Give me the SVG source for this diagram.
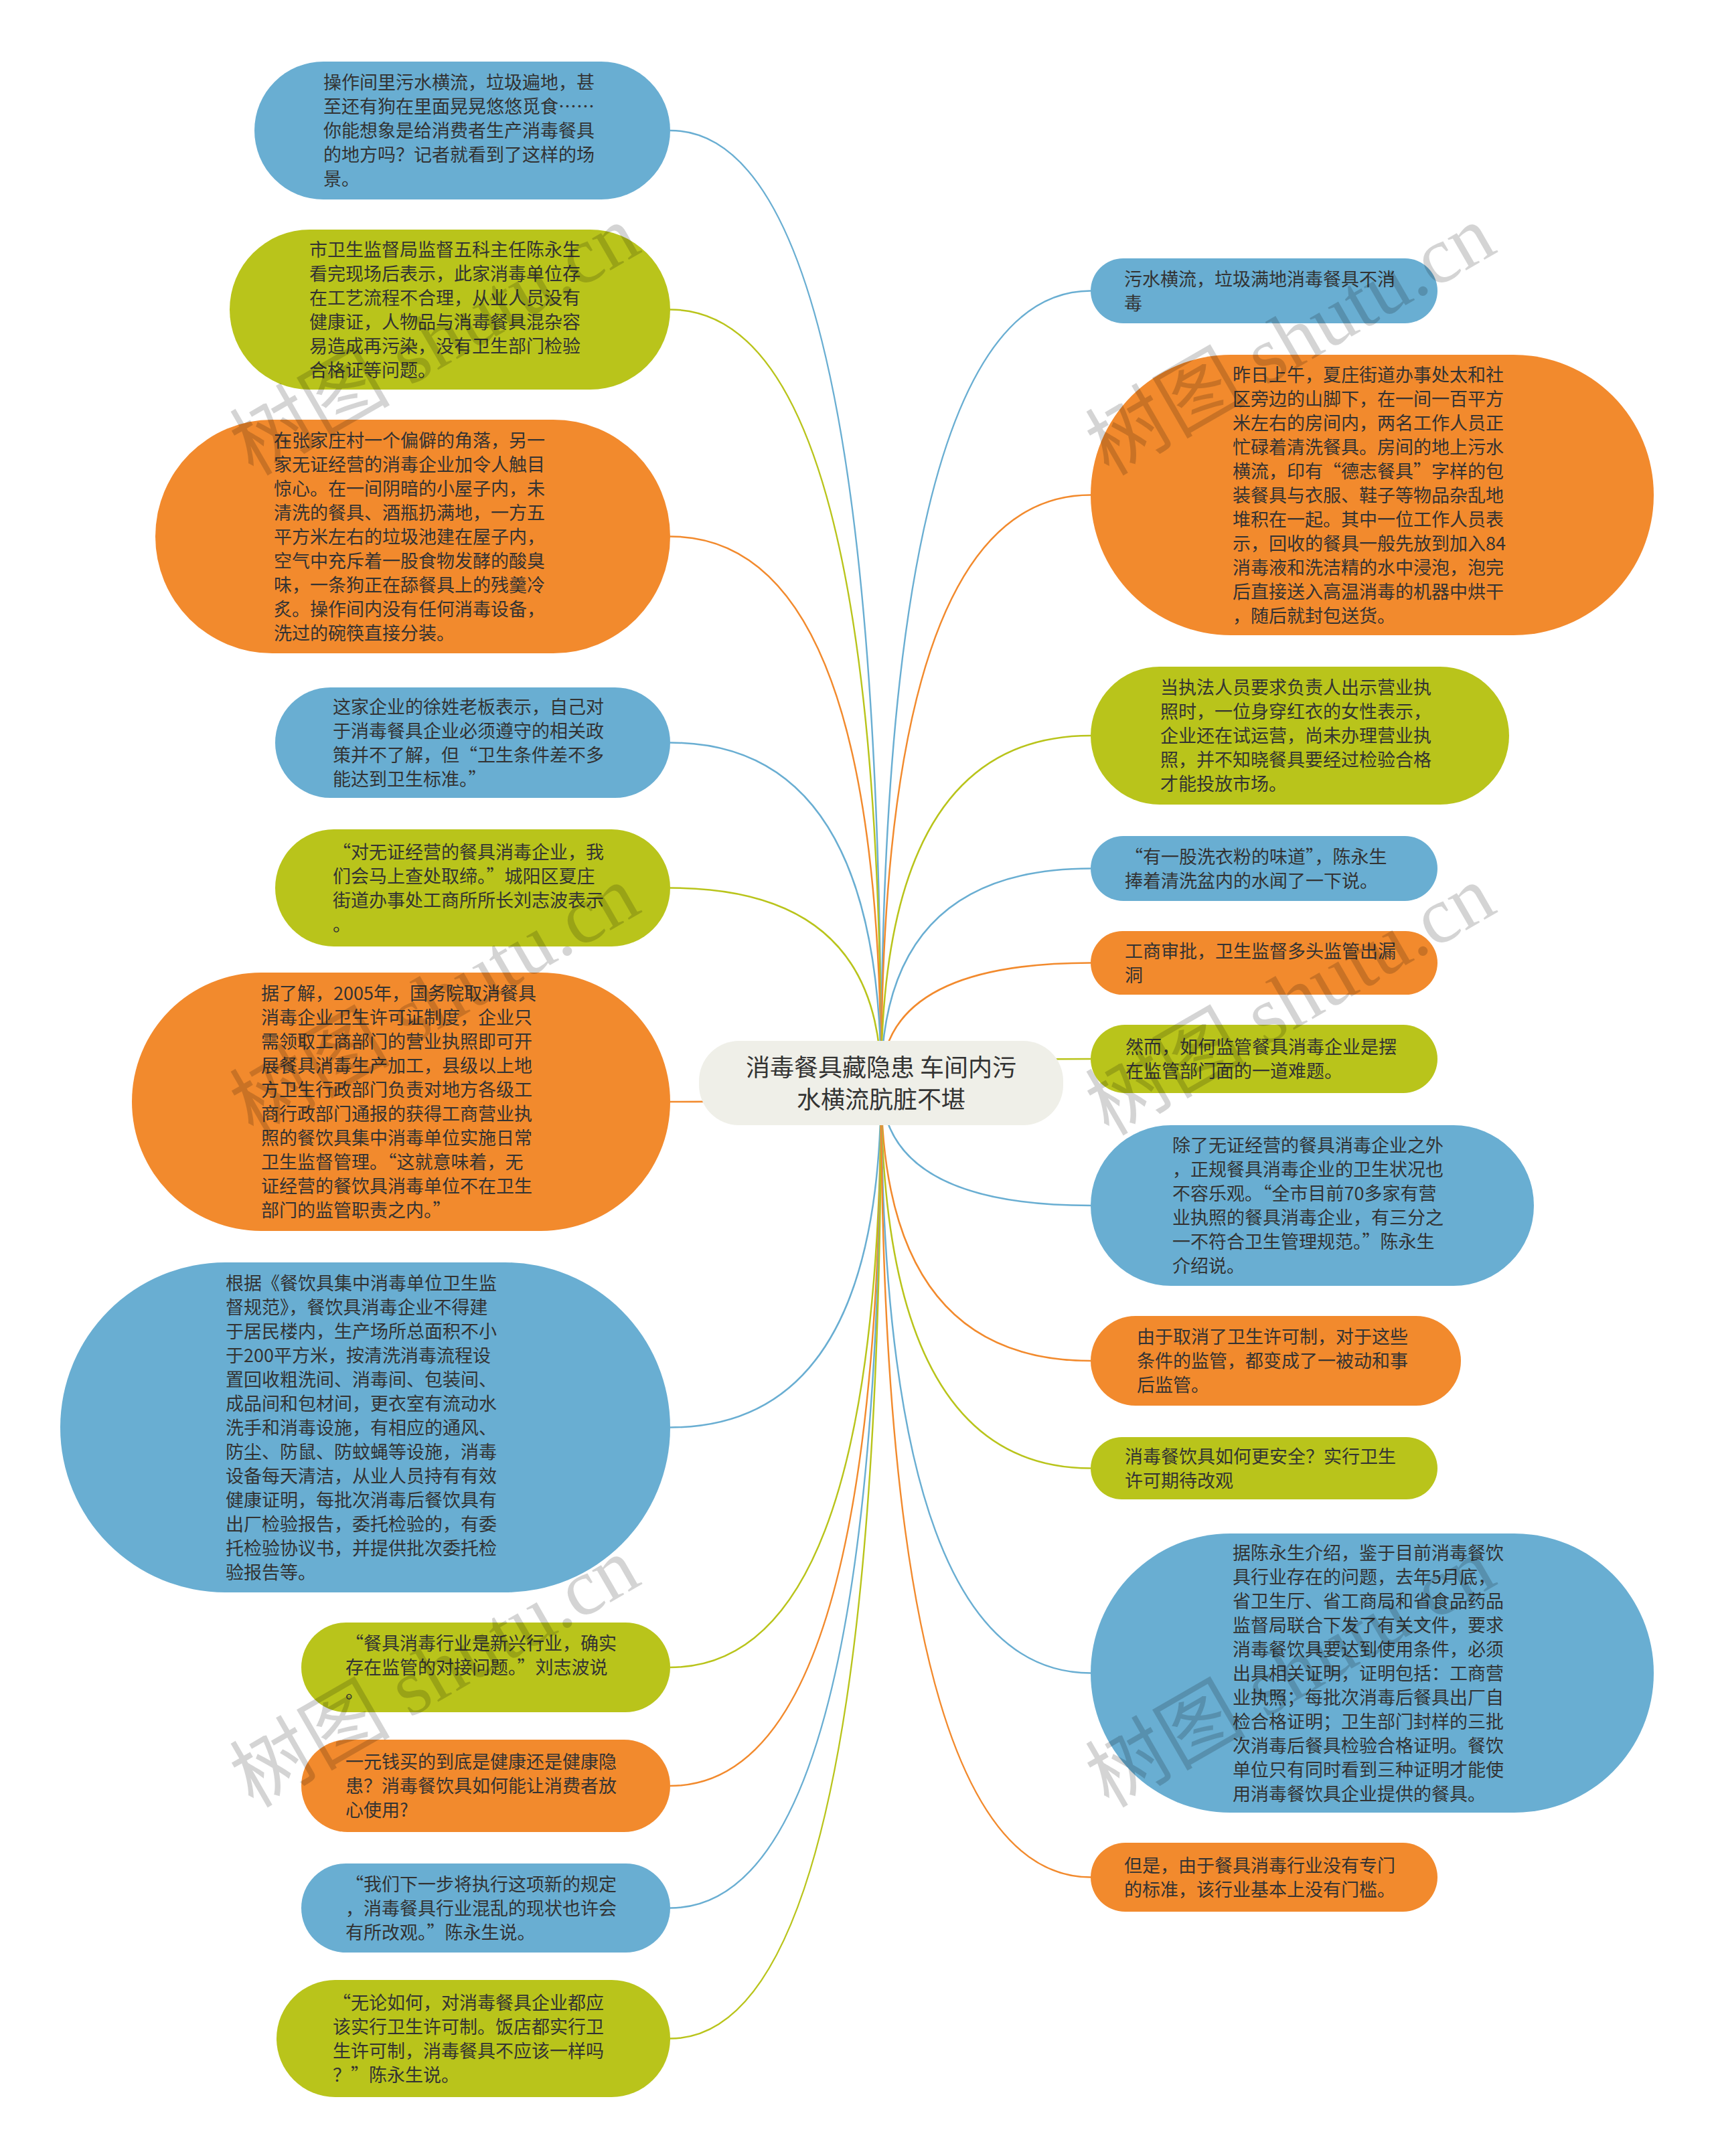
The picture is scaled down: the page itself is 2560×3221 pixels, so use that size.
<svg xmlns="http://www.w3.org/2000/svg" width="2560" height="3221" viewBox="0 0 2560 3221">
<style>
.t{font-family:"Noto Sans CJK SC","Noto Sans",sans-serif;font-size:27px;fill:#333}
.ct{font-family:"Noto Sans CJK SC","Noto Sans",sans-serif;font-size:36px;fill:#333;text-anchor:middle}
.b{fill:#69aed2}
.g{fill:#b9c41b}
.o{fill:#f28a2d}
.lb{stroke:#69aed2}
.lg{stroke:#b9c41b}
.lo{stroke:#f28a2d}
#connectors path{fill:none;stroke-width:2.5}
.wm{font-size:120px;fill:#000;fill-opacity:0.17}
.wc{font-family:"Noto Sans CJK SC",sans-serif}
.ws{font-family:"Liberation Serif",serif}
</style>
<rect width="2560" height="3221" fill="#ffffff"/>
<g id="connectors">
<path class="lb" d="M1316 1618 Q1316 195 1001 195"/>
<path class="lg" d="M1316 1618 Q1316 462.5 1001 462.5"/>
<path class="lo" d="M1316 1618 Q1316 801.5 1001 801.5"/>
<path class="lb" d="M1316 1618 Q1316 1109.5 1001 1109.5"/>
<path class="lg" d="M1316 1618 Q1316 1326.5 1001 1326.5"/>
<path class="lo" d="M1316 1618 Q1316 1646 1001 1646"/>
<path class="lb" d="M1316 1618 Q1316 2132.5 1001 2132.5"/>
<path class="lg" d="M1316 1618 Q1316 2491 1001 2491"/>
<path class="lo" d="M1316 1618 Q1316 2668 1001 2668"/>
<path class="lb" d="M1316 1618 Q1316 2850.5 1001 2850.5"/>
<path class="lg" d="M1316 1618 Q1316 3045.5 1001 3045.5"/>
<path class="lb" d="M1316 1618 Q1316 434.5 1629 434.5"/>
<path class="lo" d="M1316 1618 Q1316 739.5 1629 739.5"/>
<path class="lg" d="M1316 1618 Q1316 1099 1629 1099"/>
<path class="lb" d="M1316 1618 Q1316 1297.5 1629 1297.5"/>
<path class="lo" d="M1316 1618 Q1316 1438.5 1629 1438.5"/>
<path class="lg" d="M1316 1618 Q1316 1582 1629 1582"/>
<path class="lb" d="M1316 1618 Q1316 1801 1629 1801"/>
<path class="lo" d="M1316 1618 Q1316 2033 1629 2033"/>
<path class="lg" d="M1316 1618 Q1316 2193.5 1629 2193.5"/>
<path class="lb" d="M1316 1618 Q1316 2499.5 1629 2499.5"/>
<path class="lo" d="M1316 1618 Q1316 2804.5 1629 2804.5"/>
</g>
<g id="center">
<rect x="1044" y="1555" width="544" height="126" rx="60" fill="#efefe8"/>
<text class="ct" x="1316" y="1608">消毒餐具藏隐患 车间内污</text>
<text class="ct" x="1316" y="1656">水横流肮脏不堪</text>
</g>
<g id="L1">
<rect class="b" x="380" y="92" width="621" height="206" rx="103"/>
<text class="t" y="133"><tspan x="483">操作间里污水横流，垃圾遍地，甚</tspan><tspan x="483" dy="36">至还有狗在里面晃晃悠悠觅食……</tspan><tspan x="483" dy="36">你能想象是给消费者生产消毒餐具</tspan><tspan x="483" dy="36">的地方吗？记者就看到了这样的场</tspan><tspan x="483" dy="36">景。</tspan></text>
</g>
<g id="L2">
<rect class="g" x="343" y="343" width="658" height="239" rx="119.5"/>
<text class="t" y="382.5"><tspan x="462">市卫生监督局监督五科主任陈永生</tspan><tspan x="462" dy="36">看完现场后表示，此家消毒单位存</tspan><tspan x="462" dy="36">在工艺流程不合理，从业人员没有</tspan><tspan x="462" dy="36">健康证，人物品与消毒餐具混杂容</tspan><tspan x="462" dy="36">易造成再污染，没有卫生部门检验</tspan><tspan x="462" dy="36">合格证等问题。</tspan></text>
</g>
<g id="L3">
<rect class="o" x="232" y="627" width="769" height="349" rx="174.5"/>
<text class="t" y="667.5"><tspan x="409">在张家庄村一个偏僻的角落，另一</tspan><tspan x="409" dy="36">家无证经营的消毒企业加令人触目</tspan><tspan x="409" dy="36">惊心。在一间阴暗的小屋子内，未</tspan><tspan x="409" dy="36">清洗的餐具、酒瓶扔满地，一方五</tspan><tspan x="409" dy="36">平方米左右的垃圾池建在屋子内，</tspan><tspan x="409" dy="36">空气中充斥着一股食物发酵的酸臭</tspan><tspan x="409" dy="36">味，一条狗正在舔餐具上的残羹冷</tspan><tspan x="409" dy="36">炙。操作间内没有任何消毒设备，</tspan><tspan x="409" dy="36">洗过的碗筷直接分装。</tspan></text>
</g>
<g id="L4">
<rect class="b" x="411" y="1027" width="590" height="165" rx="82.5"/>
<text class="t" y="1065.5"><tspan x="497">这家企业的徐姓老板表示，自己对</tspan><tspan x="497" dy="36">于消毒餐具企业必须遵守的相关政</tspan><tspan x="497" dy="36">策并不了解，但“卫生条件差不多</tspan><tspan x="497" dy="36">能达到卫生标准。”</tspan></text>
</g>
<g id="L5">
<rect class="g" x="411" y="1239" width="590" height="175" rx="87.5"/>
<text class="t" y="1282.5"><tspan x="497">“对无证经营的餐具消毒企业，我</tspan><tspan x="497" dy="36">们会马上查处取缔。”城阳区夏庄</tspan><tspan x="497" dy="36">街道办事处工商所所长刘志波表示</tspan><tspan x="497" dy="36">。</tspan></text>
</g>
<g id="L6">
<rect class="o" x="197" y="1453" width="804" height="386" rx="193"/>
<text class="t" y="1494"><tspan x="390">据了解，2005年，国务院取消餐具</tspan><tspan x="390" dy="36">消毒企业卫生许可证制度，企业只</tspan><tspan x="390" dy="36">需领取工商部门的营业执照即可开</tspan><tspan x="390" dy="36">展餐具消毒生产加工，县级以上地</tspan><tspan x="390" dy="36">方卫生行政部门负责对地方各级工</tspan><tspan x="390" dy="36">商行政部门通报的获得工商营业执</tspan><tspan x="390" dy="36">照的餐饮具集中消毒单位实施日常</tspan><tspan x="390" dy="36">卫生监督管理。“这就意味着，无</tspan><tspan x="390" dy="36">证经营的餐饮具消毒单位不在卫生</tspan><tspan x="390" dy="36">部门的监管职责之内。”</tspan></text>
</g>
<g id="L7">
<rect class="b" x="90" y="1886" width="911" height="493" rx="246.5"/>
<text class="t" y="1926.5"><tspan x="337">根据《餐饮具集中消毒单位卫生监</tspan><tspan x="337" dy="36">督规范》，餐饮具消毒企业不得建</tspan><tspan x="337" dy="36">于居民楼内，生产场所总面积不小</tspan><tspan x="337" dy="36">于200平方米，按清洗消毒流程设</tspan><tspan x="337" dy="36">置回收粗洗间、消毒间、包装间、</tspan><tspan x="337" dy="36">成品间和包材间，更衣室有流动水</tspan><tspan x="337" dy="36">洗手和消毒设施，有相应的通风、</tspan><tspan x="337" dy="36">防尘、防鼠、防蚊蝇等设施，消毒</tspan><tspan x="337" dy="36">设备每天清洁，从业人员持有有效</tspan><tspan x="337" dy="36">健康证明，每批次消毒后餐饮具有</tspan><tspan x="337" dy="36">出厂检验报告，委托检验的，有委</tspan><tspan x="337" dy="36">托检验协议书，并提供批次委托检</tspan><tspan x="337" dy="36">验报告等。</tspan></text>
</g>
<g id="L8">
<rect class="g" x="450" y="2424" width="551" height="134" rx="67"/>
<text class="t" y="2465"><tspan x="516">“餐具消毒行业是新兴行业，确实</tspan><tspan x="516" dy="36">存在监管的对接问题。”刘志波说</tspan><tspan x="516" dy="36">。</tspan></text>
</g>
<g id="L9">
<rect class="o" x="450" y="2599" width="551" height="138" rx="69"/>
<text class="t" y="2642"><tspan x="516">一元钱买的到底是健康还是健康隐</tspan><tspan x="516" dy="36">患？消毒餐饮具如何能让消费者放</tspan><tspan x="516" dy="36">心使用?</tspan></text>
</g>
<g id="L10">
<rect class="b" x="450" y="2784" width="551" height="133" rx="66.5"/>
<text class="t" y="2824.5"><tspan x="516">“我们下一步将执行这项新的规定</tspan><tspan x="516" dy="36">，消毒餐具行业混乱的现状也许会</tspan><tspan x="516" dy="36">有所改观。”陈永生说。</tspan></text>
</g>
<g id="L11">
<rect class="g" x="413" y="2958" width="588" height="175" rx="87.5"/>
<text class="t" y="3001.5"><tspan x="497">“无论如何，对消毒餐具企业都应</tspan><tspan x="497" dy="36">该实行卫生许可制。饭店都实行卫</tspan><tspan x="497" dy="36">生许可制，消毒餐具不应该一样吗</tspan><tspan x="497" dy="36">？”陈永生说。</tspan></text>
</g>
<g id="R1">
<rect class="b" x="1629" y="386" width="518" height="97" rx="48.5"/>
<text class="t" y="426.5"><tspan x="1679">污水横流，垃圾满地消毒餐具不消</tspan><tspan x="1679" dy="36">毒</tspan></text>
</g>
<g id="R2">
<rect class="o" x="1629" y="530" width="841" height="419" rx="209.5"/>
<text class="t" y="569.5"><tspan x="1841">昨日上午，夏庄街道办事处太和社</tspan><tspan x="1841" dy="36">区旁边的山脚下，在一间一百平方</tspan><tspan x="1841" dy="36">米左右的房间内，两名工作人员正</tspan><tspan x="1841" dy="36">忙碌着清洗餐具。房间的地上污水</tspan><tspan x="1841" dy="36">横流，印有“德志餐具”字样的包</tspan><tspan x="1841" dy="36">装餐具与衣服、鞋子等物品杂乱地</tspan><tspan x="1841" dy="36">堆积在一起。其中一位工作人员表</tspan><tspan x="1841" dy="36">示，回收的餐具一般先放到加入84</tspan><tspan x="1841" dy="36">消毒液和洗洁精的水中浸泡，泡完</tspan><tspan x="1841" dy="36">后直接送入高温消毒的机器中烘干</tspan><tspan x="1841" dy="36">，随后就封包送货。</tspan></text>
</g>
<g id="R3">
<rect class="g" x="1629" y="996" width="625" height="206" rx="103"/>
<text class="t" y="1037"><tspan x="1733">当执法人员要求负责人出示营业执</tspan><tspan x="1733" dy="36">照时，一位身穿红衣的女性表示，</tspan><tspan x="1733" dy="36">企业还在试运营，尚未办理营业执</tspan><tspan x="1733" dy="36">照，并不知晓餐具要经过检验合格</tspan><tspan x="1733" dy="36">才能投放市场。</tspan></text>
</g>
<g id="R4">
<rect class="b" x="1629" y="1249" width="518" height="97" rx="48.5"/>
<text class="t" y="1289.5"><tspan x="1680">“有一股洗衣粉的味道”，陈永生</tspan><tspan x="1680" dy="36">捧着清洗盆内的水闻了一下说。</tspan></text>
</g>
<g id="R5">
<rect class="o" x="1629" y="1391" width="518" height="95" rx="47.5"/>
<text class="t" y="1430.5"><tspan x="1680">工商审批，卫生监督多头监管出漏</tspan><tspan x="1680" dy="36">洞</tspan></text>
</g>
<g id="R6">
<rect class="g" x="1629" y="1531" width="518" height="102" rx="51"/>
<text class="t" y="1574"><tspan x="1681">然而，如何监管餐具消毒企业是摆</tspan><tspan x="1681" dy="36">在监管部门面的一道难题。</tspan></text>
</g>
<g id="R7">
<rect class="b" x="1629" y="1681" width="662" height="240" rx="120"/>
<text class="t" y="1721"><tspan x="1751">除了无证经营的餐具消毒企业之外</tspan><tspan x="1751" dy="36">，正规餐具消毒企业的卫生状况也</tspan><tspan x="1751" dy="36">不容乐观。“全市目前70多家有营</tspan><tspan x="1751" dy="36">业执照的餐具消毒企业，有三分之</tspan><tspan x="1751" dy="36">一不符合卫生管理规范。”陈永生</tspan><tspan x="1751" dy="36">介绍说。</tspan></text>
</g>
<g id="R8">
<rect class="o" x="1629" y="1966" width="553" height="134" rx="67"/>
<text class="t" y="2007"><tspan x="1698">由于取消了卫生许可制，对于这些</tspan><tspan x="1698" dy="36">条件的监管，都变成了一被动和事</tspan><tspan x="1698" dy="36">后监管。</tspan></text>
</g>
<g id="R9">
<rect class="g" x="1629" y="2147" width="518" height="93" rx="46.5"/>
<text class="t" y="2185.5"><tspan x="1680">消毒餐饮具如何更安全？实行卫生</tspan><tspan x="1680" dy="36">许可期待改观</tspan></text>
</g>
<g id="R10">
<rect class="b" x="1629" y="2291" width="841" height="417" rx="208.5"/>
<text class="t" y="2329.5"><tspan x="1841">据陈永生介绍，鉴于目前消毒餐饮</tspan><tspan x="1841" dy="36">具行业存在的问题，去年5月底，</tspan><tspan x="1841" dy="36">省卫生厅、省工商局和省食品药品</tspan><tspan x="1841" dy="36">监督局联合下发了有关文件，要求</tspan><tspan x="1841" dy="36">消毒餐饮具要达到使用条件，必须</tspan><tspan x="1841" dy="36">出具相关证明，证明包括：工商营</tspan><tspan x="1841" dy="36">业执照；每批次消毒后餐具出厂自</tspan><tspan x="1841" dy="36">检合格证明；卫生部门封样的三批</tspan><tspan x="1841" dy="36">次消毒后餐具检验合格证明。餐饮</tspan><tspan x="1841" dy="36">单位只有同时看到三种证明才能使</tspan><tspan x="1841" dy="36">用消毒餐饮具企业提供的餐具。</tspan></text>
</g>
<g id="R11">
<rect class="o" x="1629" y="2753" width="518" height="103" rx="51.5"/>
<text class="t" y="2796.5"><tspan x="1679">但是，由于餐具消毒行业没有专门</tspan><tspan x="1679" dy="36">的标准，该行业基本上没有门槛。</tspan></text>
</g>
<g id="watermarks" class="wm">
<text transform="translate(378 712) rotate(-30)"><tspan class="wc">树图</tspan><tspan class="ws"> shutu.cn</tspan></text>
<text transform="translate(1656 712) rotate(-30)"><tspan class="wc">树图</tspan><tspan class="ws"> shutu.cn</tspan></text>
<text transform="translate(378 1698) rotate(-30)"><tspan class="wc">树图</tspan><tspan class="ws"> shutu.cn</tspan></text>
<text transform="translate(1656 1698) rotate(-30)"><tspan class="wc">树图</tspan><tspan class="ws"> shutu.cn</tspan></text>
<text transform="translate(378 2702) rotate(-30)"><tspan class="wc">树图</tspan><tspan class="ws"> shutu.cn</tspan></text>
<text transform="translate(1656 2702) rotate(-30)"><tspan class="wc">树图</tspan><tspan class="ws"> shutu.cn</tspan></text>
</g>
</svg>
